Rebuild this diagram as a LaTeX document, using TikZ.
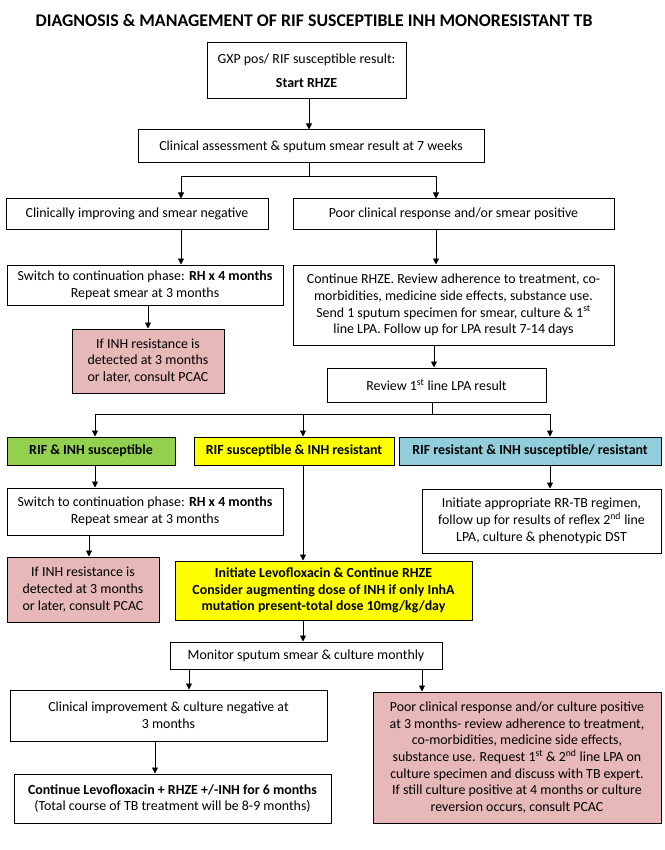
\documentclass[tikz,border=0pt]{standalone}
\usepackage{fontspec}
\setmainfont{Carlito}
\usetikzlibrary{arrows.meta}
\definecolor{pinkbox}{HTML}{E6B8B7}
\definecolor{greenbox}{HTML}{92D050}
\definecolor{yellowbox}{HTML}{FFFF00}
\definecolor{bluebox}{HTML}{92CDDC}

\tikzset{
  box/.style={draw, line width=1pt, align=center, inner sep=1pt, font=\fontsize{13.9}{16.7}\selectfont},
  boldbox/.style={box, font=\bfseries\fontsize{13.9}{16.7}\selectfont},
  arr/.style={line width=0.9pt, -{Triangle[length=6pt,width=6pt]}},
  link/.style={line width=0.9pt},
}

\begin{document}
\begin{tikzpicture}[x=1pt,y=-1pt]
  \useasboundingbox (0,0) rectangle (664,850);

  % Title
  \node[font=\bfseries\fontsize{17.8}{20}\selectfont] (title) at (314,20) {DIAGNOSIS \& MANAGEMENT OF RIF SUSCEPTIBLE INH MONORESISTANT TB};

  % Start
  \node[box, minimum width=199pt, minimum height=56pt] (gxp) at (306.5,71) {GXP pos/ RIF susceptible result:\\[7pt]\textbf{Start RHZE}};
  \node[box, minimum width=346pt, minimum height=33pt] (clin) at (311,146.5) {Clinical assessment \& sputum smear result at 7 weeks};

  % 7 weeks
  \node[box, minimum width=262pt, minimum height=30pt] (impr) at (137,214) {Clinically improving and smear negative};
  \node[box, minimum width=321pt, minimum height=30pt] (poor) at (453.5,214) {Poor clinical response and/or smear positive};
  \node[box, minimum width=276pt, minimum height=40pt] (sw1) at (145,285) {Switch to continuation phase: \textbf{RH x 4 months}\\Repeat smear at 3 months};
  \node[box, minimum width=321pt, minimum height=80pt] (cont) at (453.5,305) {Continue RHZE. Review adherence to treatment, co-\\morbidities, medicine side effects, substance use.\\Send 1 sputum specimen for smear, culture \& 1\textsuperscript{st}\\line LPA. Follow up for LPA result 7-14 days};
  \node[box, fill=pinkbox, minimum width=152pt, minimum height=64pt] (pinkA) at (148,361) {If INH resistance is\\detected at 3 months\\or later, consult PCAC};
  \node[box, minimum width=219pt, minimum height=34pt] (review) at (436.5,385) {Review 1\textsuperscript{st} line LPA result};

  % LPA result
  \node[boldbox, fill=greenbox, minimum width=168pt, minimum height=28pt] (green) at (91,451) {RIF \& INH susceptible};
  \node[boldbox, fill=yellowbox, minimum width=200pt, minimum height=28pt] (ylw) at (294,451) {RIF susceptible \& INH resistant};
  \node[boldbox, fill=bluebox, minimum width=262pt, minimum height=28pt] (blue) at (530,451) {RIF resistant \& INH susceptible/ resistant};
  \node[box, minimum width=276pt, minimum height=47pt] (sw2) at (145,511.5) {Switch to continuation phase: \textbf{RH x 4 months}\\Repeat smear at 3 months};
  \node[box, minimum width=239pt, minimum height=64pt] (rrtb) at (541.5,521) {Initiate appropriate RR-TB regimen,\\follow up for results of reflex 2\textsuperscript{nd} line\\LPA, culture \& phenotypic DST};
  \node[box, fill=pinkbox, minimum width=152pt, minimum height=65pt] (pinkB) at (83,589.5) {If INH resistance is\\detected at 3 months\\or later, consult PCAC};
  \node[boldbox, fill=yellowbox, minimum width=297pt, minimum height=59pt] (ylw2) at (323.5,590.5) {Initiate Levofloxacin \& Continue RHZE\\Consider augmenting dose of INH if only InhA\\mutation present-total dose 10mg/kg/day};

  % Monitoring
  \node[box, minimum width=272pt, minimum height=27pt] (monitor) at (306,655.5) {Monitor sputum smear \& culture monthly};
  \node[box, minimum width=317pt, minimum height=51pt] (climp) at (168.5,715.5) {Clinical improvement \& culture negative at\\3 months};
  \node[box, minimum width=317pt, minimum height=49pt] (levo) at (172.5,798.5) {\textbf{Continue Levofloxacin + RHZE +/-INH for 6 months}\\(Total course of TB treatment will be 8-9 months)};
  \node[box, fill=pinkbox, minimum width=288pt, minimum height=131pt] (pinkC) at (517,757.5) {Poor clinical response and/or culture positive\\at 3 months- review adherence to treatment,\\co-morbidities, medicine side effects,\\substance use. Request 1\textsuperscript{st} \& 2\textsuperscript{nd} line LPA on\\culture specimen and discuss with TB expert.\\If still culture positive at 4 months or culture\\reversion occurs, consult PCAC};

  % Connectors
  \coordinate (brA) at (309,176);
  \coordinate (brB) at (432,414);
  \draw[arr] (gxp.south -| brA) -- (clin.north -| brA);
  \draw[link] (clin.south -| brA) -- (brA);
  \draw[arr] (brA) -| ([xshift=44pt]impr.north);
  \draw[arr] (brA) -| ([xshift=-17.5pt]poor.north);
  \draw[arr] ([xshift=44pt]impr.south) -- ([xshift=44pt]impr.south |- sw1.north);
  \draw[arr] ([xshift=-17.5pt]poor.south) -- ([xshift=-17.5pt]poor.south |- cont.north);
  \draw[arr] (sw1.south -| pinkA.north) -- (pinkA.north);
  \draw[arr] ([xshift=-19.5pt]cont.south) -- ([xshift=-19.5pt]cont.south |- review.north);
  \draw[link] (review.south -| brB) -- (brB);
  \draw[arr] (brB) -| ([xshift=4pt]green.north);
  \draw[arr] (brB) -| ([xshift=9pt]ylw.north);
  \draw[arr] (brB) -| ([xshift=20pt]blue.north);
  \draw[arr] ([xshift=4pt]green.south) -- ([xshift=4pt]green.south |- sw2.north);
  \draw[arr] ([xshift=20pt]blue.south) -- ([xshift=20pt]blue.south |- rrtb.north);
  \draw[arr] ([xshift=6pt]pinkB.north |- sw2.south) -- ([xshift=6pt]pinkB.north);
  \draw[arr] ([xshift=9pt]ylw.south) -- ([xshift=9pt]ylw.south |- ylw2.north);
  \draw[arr] ([xshift=9pt]ylw.south |- ylw2.south) -- ([xshift=9pt]ylw.south |- monitor.north);
  \draw[arr] ([xshift=20.5pt]climp.north |- monitor.south) -- ([xshift=20.5pt]climp.north);
  \draw[arr] ([xshift=-95pt]pinkC.north |- monitor.south) -- ([xshift=-95pt]pinkC.north);
  \draw[arr] ([xshift=-13.5pt]climp.south) -- ([xshift=-13.5pt]climp.south |- levo.north);
\end{tikzpicture}
\end{document}
